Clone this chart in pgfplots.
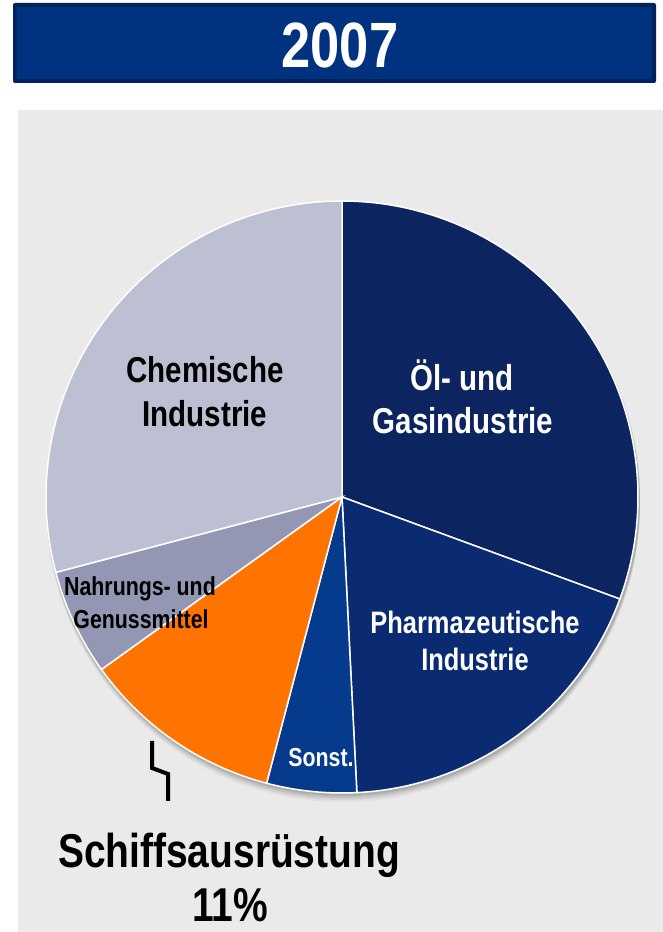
\documentclass[border=0pt]{standalone}
\usepackage{pgfplots}
\pgfplotsset{compat=1.18}
\usepackage{pgfplotstable}
\usepackage{fontspec}
\setmainfont{Liberation Sans}[FakeStretch=0.82]
\definecolor{cOel}{HTML}{0C2460}
\definecolor{cPharma}{HTML}{0A2A72}
\definecolor{cSonst}{HTML}{063A8C}
\definecolor{cSchiff}{HTML}{FF7300}
\definecolor{cNahrung}{HTML}{9397B3}
\definecolor{cChemie}{HTML}{BDBFD2}
\definecolor{cPanel}{HTML}{EAEAEA}
\definecolor{cBar}{HTML}{00327F}
\definecolor{cBarBorder}{HTML}{00235E}

\pgfplotstableread{
sector share
Oel 30.6
Pharma 18.6
Sonst 4.9
Schiff 11.0
Nahrung 5.8
Chemie 29.1
}\piedata

\begin{document}%
\begin{tikzpicture}[x=1pt,y=1pt]
\pgfplotstablegetelem{0}{share}\of\piedata \pgfmathsetmacro{\aZero}{90}
\pgfmathsetmacro{\aOne}{\aZero-3.6*\pgfplotsretval}
\pgfplotstablegetelem{1}{share}\of\piedata \pgfmathsetmacro{\aTwo}{\aOne-3.6*\pgfplotsretval}
\pgfplotstablegetelem{2}{share}\of\piedata \pgfmathsetmacro{\aThree}{\aTwo-3.6*\pgfplotsretval}
\pgfplotstablegetelem{3}{share}\of\piedata \pgfmathsetmacro{\aFour}{\aThree-3.6*\pgfplotsretval}
\pgfplotstablegetelem{4}{share}\of\piedata \pgfmathsetmacro{\aFive}{\aFour-3.6*\pgfplotsretval}
\pgfmathsetmacro{\aSix}{-270}
% background
\fill[white] (0,0) rectangle (663,932);
\fill[cPanel] (18,0) rectangle (663,822);
% title bar
\fill[cBarBorder, rounded corners=2pt] (13,849) rectangle (656,929);
\fill[cBar] (17,853) rectangle (652,925);
\node[anchor=base, text=white, font=\bfseries\fontsize{64}{70}\selectfont] at (340,864) {2007};
% shadow
\foreach \o/\op in {8/0.04,6/0.06,4/0.08,2/0.1} {
  \fill[black, opacity=\op] (343,435-\o) circle (297);
}
\coordinate (pc) at (342,435);
\begin{axis}[at={(pc)}, anchor=center, width=592pt, height=592pt,
  scale only axis, hide axis, xmin=-1, xmax=1, ymin=-1, ymax=1, clip=false]
\addplot[fill=cOel, draw=white, line width=1.5pt, domain=\aOne:\aZero, samples=90] ({cos(x)},{sin(x)}) -- (axis cs:0,0) -- cycle;
\addplot[fill=cPharma, draw=white, line width=1.5pt, domain=\aTwo:\aOne, samples=60] ({cos(x)},{sin(x)}) -- (axis cs:0,0) -- cycle;
\addplot[fill=cSonst, draw=white, line width=1.5pt, domain=\aThree:\aTwo, samples=20] ({cos(x)},{sin(x)}) -- (axis cs:0,0) -- cycle;
\addplot[fill=cSchiff, draw=white, line width=1.5pt, domain=\aFour:\aThree, samples=40] ({cos(x)},{sin(x)}) -- (axis cs:0,0) -- cycle;
\addplot[fill=cNahrung, draw=white, line width=1.5pt, domain=\aFive:\aFour, samples=25] ({cos(x)},{sin(x)}) -- (axis cs:0,0) -- cycle;
\addplot[fill=cChemie, draw=white, line width=1.5pt, domain=\aSix:\aFive, samples=90] ({cos(x)},{sin(x)}) -- (axis cs:0,0) -- cycle;
\end{axis}
% labels
\begin{scope}[every node/.style={anchor=base, inner sep=0pt}]
\node[font=\bfseries\fontsize{36}{43}\selectfont] at (205,932-383) {Chemische};
\node[font=\bfseries\fontsize{36}{43}\selectfont] at (205,932-427) {Industrie};
\node[text=white, font=\bfseries\fontsize{36}{43}\selectfont] at (462,932-391) {Öl- und};
\node[text=white, font=\bfseries\fontsize{36}{43}\selectfont] at (463,932-434) {Gasindustrie};
\node[text=white, font=\bfseries\fontsize{31}{37}\selectfont] at (475,932-634) {Pharmazeutische};
\node[text=white, font=\bfseries\fontsize{31}{37}\selectfont] at (475,932-671) {Industrie};
\node[font=\bfseries\fontsize{26}{31}\selectfont] at (140,932-596) {Nahrungs- und};
\node[font=\bfseries\fontsize{26}{31}\selectfont] at (141,932-629) {Genussmittel};
\node[text=white, font=\bfseries\fontsize{26}{31}\selectfont] at (321,932-767) {Sonst.};
\node[font=\bfseries\fontsize{47.5}{55}\selectfont] at (229,932-868) {Schiffsausrüstung};
\node[font=\bfseries\fontsize{47.5}{55}\selectfont] at (230,932-922) {11\%};
\end{scope}
% zigzag pointer
\draw[black, line width=4pt, line join=miter] (152,932-741) -- (152,932-768) -- (168,932-774) -- (168,932-801);
\end{tikzpicture}%
\end{document}
